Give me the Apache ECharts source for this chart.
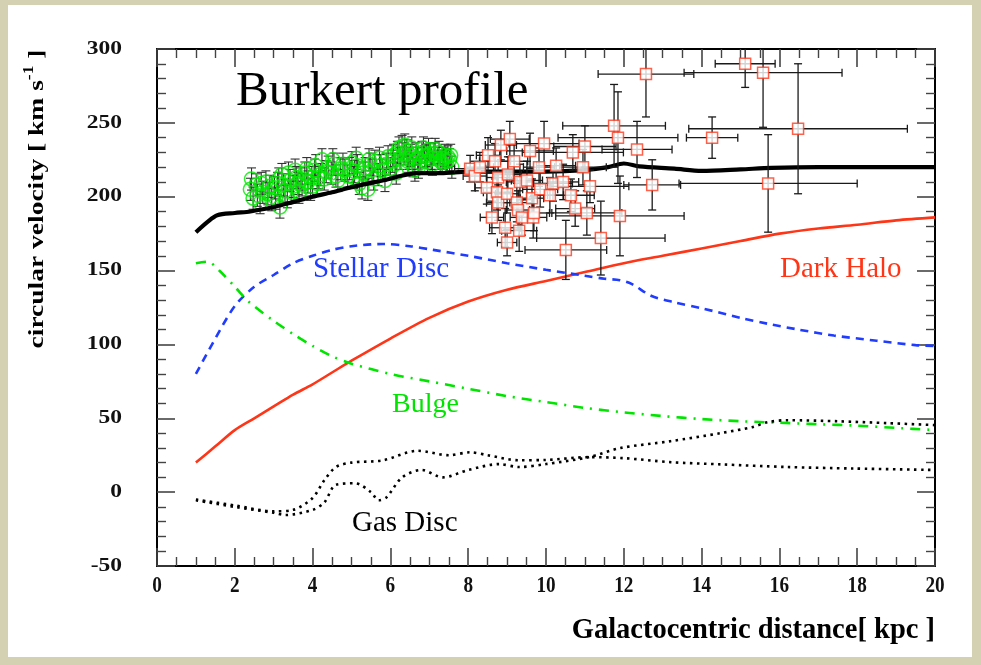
<!DOCTYPE html>
<html>
<head>
<meta charset="utf-8">
<title>Burkert profile rotation curve</title>
<script src="https://cdn.jsdelivr.net/npm/echarts@6/dist/echarts.min.js"></script>
<style>
  html, body { margin: 0; padding: 0; background: #d4d0b2; }
  #frame { position: absolute; left: 0; top: 0; width: 981px; height: 665px; background: #d4d0b2; }
  #paper { position: absolute; left: 8px; top: 5px; width: 964px; height: 652px; background: #ffffff; }
  #chart { position: absolute; left: 0; top: 0; width: 981px; height: 665px; }
</style>
</head>
<body>
<div id="frame"><div id="paper"></div><div id="chart"></div></div>
<script>
// ---- model components: [R (kpc), v (km/s)] ----
const totalCurve = [[1,176],[1.3,183],[1.55,187.5],[2,189],[2.4,190],[3,193],[3.45,196],[4,200],[4.5,203],[5,206.5],[5.8,211],[6.7,216],[7.3,216],[8,217],[9,217],[10,217],[11,218],[11.6,220],[12,222.5],[12.4,220.5],[13.3,219],[14,217.5],[15,218.5],[15.8,219.5],[17,220],[18,220],[20,220]];
const darkHalo = [[1,20],[1.5,31],[2,42],[2.5,50],[3,58],[3.5,66],[4,73],[4.5,81],[5,89],[6,104],[7,118],[8,129],[9,137],[10,143],[11,149],[12,155],[13,160],[14,165],[15,170],[16,175],[17,178.5],[18,181],[19,184],[20,186]];
const stellarDisc = [[1,80],[1.5,104],[2,126],[2.5,139],[3,147],[3.5,155],[4,160],[4.5,164],[5,166.5],[5.8,168],[6.5,166.5],[7.1,164],[8,160],[9,155],[10,150.5],[11,146.5],[11.5,144.5],[11.9,143.5],[12.2,141],[12.7,133],[13.3,128.5],[14,124.5],[15,118],[15.7,114],[16.5,110],[17.4,106],[18.5,102.5],[19.5,99.5],[20,99]];
const bulge = [[1,155],[1.3,156],[1.6,150],[2,139],[2.4,128],[3,116],[3.5,107],[4,99],[4.5,92],[5,87],[6,80],[7,75],[8,70],[9,65],[10,61],[11,57],[12,54],[13,51.5],[14,49.5],[15,48],[16,47],[17,46],[18,45],[19,43.5],[20,42]];
const gasDiscA = [[1,-5],[2,-9],[3,-13],[3.5,-12],[4,-4],[4.3,8],[4.6,17],[5,20],[5.8,21.5],[6.7,28],[7.5,25],[8.05,27],[8.5,25],[9.3,21.6],[10,21.8],[11.1,23.7],[12,23],[13.2,20.3],[14.5,18.8],[16.2,17],[17.9,16],[20,15]];
const gasDiscB = [[1,-5.5],[2,-10],[3,-14],[3.3,-15.5],[4,-12],[4.3,-7],[4.6,5],[5.1,6],[5.5,0],[5.7,-5.5],[5.9,-3.5],[6.3,10],[6.8,15],[7.35,10],[8,15],[8.8,19],[9.3,17],[10,19],[11.1,23.7],[11.9,29.8],[13.2,34.5],[14.5,40],[15.3,44],[15.7,47.4],[16.2,48.7],[17.5,48],[18.8,46.7],[20,45.4]];

// ---- inner disc tracers: [R, v] with a common velocity error ----
const innerR = [2.40,2.47,2.55,2.65,2.72,2.80,2.85,2.95,3.02,3.10,3.16,3.21,3.29,3.35,3.42,3.50,3.58,3.65,3.73,3.80,3.88,3.95,3.98,4.05,4.12,4.20,4.24,4.30,4.40,4.48,4.55,4.65,4.72,4.83,4.90,5.01,5.08,5.15,5.20,5.27,5.35,5.42,5.48,5.53,5.60,5.68,5.75,5.86,5.94,6.00,6.05,6.12,6.18,6.25,6.30,6.37,6.45,6.52,6.58,6.63,6.70,6.76,6.81,6.88,6.95,7.02,7.08,7.15,7.22,7.28,7.33,7.40,7.48,7.52,7.58,
  2.43,2.58,2.68,2.90,3.05,3.13,3.25,3.38,3.45,3.55,3.62,3.70,3.85,4.00,4.08,4.16,4.35,4.52,4.60,4.78,4.95,5.05,5.12,5.30,5.45,5.57,5.72,5.80,5.90,6.08,6.15,6.22,6.35,6.42,6.48,6.55,6.66,6.72,6.85,6.92,6.98,7.05,7.12,7.25,7.36,7.45,7.55];
const innerV = [205,199,208,196,203,210,202,198,206,209,193,215,204,200,211,207,213,203,208,216,210,205,213,218,209,215,225,212,220,216,222,211,219,218,214,223,217,221,209,206,219,205,222,218,224,215,221,211,227,219,224,222,230,226,234,235,224,228,221,218,226,223,230,227,224,229,222,232,226,224,223,228,227,225,220,
  212,201,209,207,199,212,208,216,203,218,209,212,219,207,221,213,217,225,214,222,219,213,226,216,225,212,226,218,222,228,216,233,229,231,226,233,229,220,233,228,232,226,229,230,226,224,228];
const innerErr = 7.5;

// ---- outer tracers: R, v, R error, v error ----
const outerR  = [8.05,8.17,8.30,8.48,8.51,8.61,8.69,8.74,8.77,8.77,8.84,8.95,9.00,9.00,9.02,9.07,9.18,9.25,9.28,9.31,9.33,9.38,9.51,9.59,9.64,9.67,9.69,9.82,9.85,9.95,10.10,10.18,10.26,10.44,10.51,10.64,10.69,10.75,10.95,11.00,11.05,11.13,11.41,11.75,11.85,11.90,12.34,12.57,12.73,14.27,15.12,15.58,15.71,16.48];
const outerV  = [219,214,220,206,228,186,224,203,213,196,235,179,202,169,215,239,224,196,191,177,210,186,211,231,199,186,189,220,205,236,201,209,221,210,164,201,230,192,220,234,189,207,172,248,240,187,232,283,208,240,290,284,209,246];
const outerRErr = [0.40,0.30,0.35,0.30,0.30,0.30,0.40,0.35,0.30,0.30,0.40,0.40,0.30,0.25,0.35,0.50,0.35,0.40,0.30,0.45,0.35,0.30,0.40,0.60,0.30,0.35,0.40,0.40,0.45,0.90,0.35,0.50,0.50,0.40,1.05,0.60,1.30,0.50,0.60,0.80,0.90,1.00,1.65,1.32,1.54,1.65,0.90,1.23,0.73,0.66,0.77,2.03,2.29,2.81];
const outerVErr = [9,10,10,11,12,11,12,12,11,12,10,13,13,9,12,12,12,13,13,14,12,12,13,12,13,14,12,13,12,15,12,12,12,12,20,11,12,12,12,14,15,11,25,28,31,27,19,29,17,14,16,37,33,44];

// ---- axes and tick labels ----
const xTicks = { min: 0, max: 20, step: 2 };
const yTicks = { min: -50, max: 300, step: 50 };
const xTickLabels = ['0','2','4','6','8','10','12','14','16','18','20'];
const yTickLabels = ['-50','0','50','100','150','200','250','300'];

const innerData = innerR.map((r, i) => [r, innerV[i], 0, innerErr]);
const outerData = outerR.map((r, i) => [r, outerV[i], outerRErr[i], outerVErr[i]]);

function errorBars(capHalf, stroke, width) {
  return function (params, api) {
    const x = api.value(0), y = api.value(1), ex = api.value(2), ey = api.value(3);
    const st = { stroke: stroke, lineWidth: width };
    const kids = [];
    const lo = api.coord([x, y - ey]), hi = api.coord([x, y + ey]);
    kids.push({ type: 'line', shape: { x1: lo[0], y1: lo[1], x2: hi[0], y2: hi[1] }, style: st });
    kids.push({ type: 'line', shape: { x1: lo[0] - capHalf, y1: lo[1], x2: lo[0] + capHalf, y2: lo[1] }, style: st });
    kids.push({ type: 'line', shape: { x1: hi[0] - capHalf, y1: hi[1], x2: hi[0] + capHalf, y2: hi[1] }, style: st });
    if (ex > 0) {
      const l = api.coord([x - ex, y]), r = api.coord([x + ex, y]);
      kids.push({ type: 'line', shape: { x1: l[0], y1: l[1], x2: r[0], y2: r[1] }, style: st });
      kids.push({ type: 'line', shape: { x1: l[0], y1: l[1] - capHalf, x2: l[0], y2: l[1] + capHalf }, style: st });
      kids.push({ type: 'line', shape: { x1: r[0], y1: r[1] - capHalf, x2: r[0], y2: r[1] + capHalf }, style: st });
    }
    return { type: 'group', children: kids };
  };
}

const serif = "'Liberation Serif', 'Times New Roman', serif";

function frameAxis(kind, position) {
  const t = kind === 'x' ? xTicks : yTicks;
  return {
    type: 'value', position: position,
    min: t.min, max: t.max, interval: t.step,
    axisLine: { show: true, onZero: false, lineStyle: { color: '#000', width: 2 } },
    axisTick: { show: true, inside: true, length: 18, lineStyle: { color: '#444', width: 1.6 } },
    minorTick: { show: true, splitNumber: kind === 'x' ? 4 : 5, length: 9, lineStyle: { color: '#444', width: 1.4 } },
    splitLine: { show: false },
    minorSplitLine: { show: false },
    axisLabel: { show: false }
  };
}

const chart = echarts.init(document.getElementById('chart'), null, { renderer: 'canvas' });

const option = {
  animation: false,
  backgroundColor: 'transparent',
  grid: { left: 157, right: 46, top: 49, bottom: 99, containLabel: false },
  xAxis: [frameAxis('x', 'bottom'), frameAxis('x', 'top')],
  yAxis: [frameAxis('y', 'left'), frameAxis('y', 'right')],
  graphic: [
    { type: 'text', id: 'title', left: 236, top: 68, z: 100,
      style: { text: 'Burkert profile', font: "49px " + serif, fill: '#000' } },
    { type: 'text', id: 'lblDisc', left: 313, top: 255, z: 100,
      style: { text: 'Stellar Disc', font: "29px " + serif, fill: '#1f3cff' } },
    { type: 'text', id: 'lblHalo', left: 780, top: 255, z: 100,
      style: { text: 'Dark Halo', font: "29px " + serif, fill: '#ff3517' } },
    { type: 'text', id: 'lblBulge', left: 392, top: 391, z: 100,
      style: { text: 'Bulge', font: "28px " + serif, fill: '#00e400' } },
    { type: 'text', id: 'lblGas', left: 352, top: 509, z: 100,
      style: { text: 'Gas Disc', font: "29px " + serif, fill: '#000' } },
    { type: 'text', id: 'xName', right: 46, top: 616, z: 100,
      style: { text: 'Galactocentric distance[ kpc ]', font: "bold 28.5px " + serif, fill: '#000' } },
    { type: 'text', id: 'yName', x: 37, y: 199, rotation: Math.PI / 2, scaleX: 1.25, z: 100,
      style: {
        text: 'circular velocity [ km s{sup|-1} ]',
        font: "bold 22px " + serif, fill: '#000',
        align: 'center', verticalAlign: 'middle', lineHeight: 30,
        rich: { sup: { font: "bold 14px " + serif, fill: '#000', verticalAlign: 'top', lineHeight: 30 } }
      } }
  ],
  series: [
    { type: 'line', data: darkHalo, showSymbol: false, smooth: 0.3, z: 3,
      lineStyle: { color: '#ff3517', width: 2.6 } },
    { type: 'line', data: stellarDisc, showSymbol: false, smooth: 0.3, z: 3,
      lineStyle: { color: '#1f3cff', width: 2.6, type: [8, 6] } },
    { type: 'line', data: bulge, showSymbol: false, smooth: 0.3, z: 3,
      lineStyle: { color: '#00e400', width: 2.6, type: [10, 7, 2, 7] } },
    { type: 'line', data: gasDiscA, showSymbol: false, smooth: 0.3, z: 3,
      lineStyle: { color: '#000', width: 2.6, type: [2.5, 4.5] } },
    { type: 'line', data: gasDiscB, showSymbol: false, smooth: 0.3, z: 3,
      lineStyle: { color: '#000', width: 2.6, type: [2.5, 4.5] } },
    { type: 'custom', data: innerData, renderItem: errorBars(4.5, '#333', 1.1), clip: true, z: 4, silent: true },
    { type: 'scatter', data: innerData, symbol: 'circle', symbolSize: 14, z: 5,
      itemStyle: { color: 'rgba(0,0,0,0)', borderColor: '#00e800', borderWidth: 1.5 } },
    { type: 'line', data: totalCurve, showSymbol: false, smooth: 0.3, z: 6,
      lineStyle: { color: '#000', width: 4.2 } },
    { type: 'custom', data: outerData, renderItem: errorBars(4, '#1a1a1a', 1.3), clip: true, z: 7, silent: true },
    { type: 'scatter', data: outerData, symbol: 'rect', symbolSize: 11, z: 8, clip: true,
      itemStyle: { color: '#ffffff', borderColor: '#ff3b1f', borderWidth: 1.5 } }
  ]
};

chart.setOption(option);

// Tick labels placed through the axis scales, in the plot's bold serif face
const tickGraphics = [];
xTickLabels.forEach((t, i) => {
  const px = chart.convertToPixel({ xAxisIndex: 0 }, Number(t));
  tickGraphics.push({ type: 'text', id: 'xt' + i, x: px, y: 586, scaleX: 0.8, z: 100,
    style: { text: t, font: "bold 24px " + serif, fill: '#111', align: 'center', verticalAlign: 'middle' } });
});
yTickLabels.forEach((t, i) => {
  const py = chart.convertToPixel({ yAxisIndex: 0 }, Number(t));
  tickGraphics.push({ type: 'text', id: 'yt' + i, x: 122, y: py, scaleX: 1.27, z: 100,
    style: { text: t, font: "bold 18.5px " + serif, fill: '#111', align: 'right', verticalAlign: 'middle' } });
});
chart.setOption({ graphic: tickGraphics });
</script>
</body>
</html>
